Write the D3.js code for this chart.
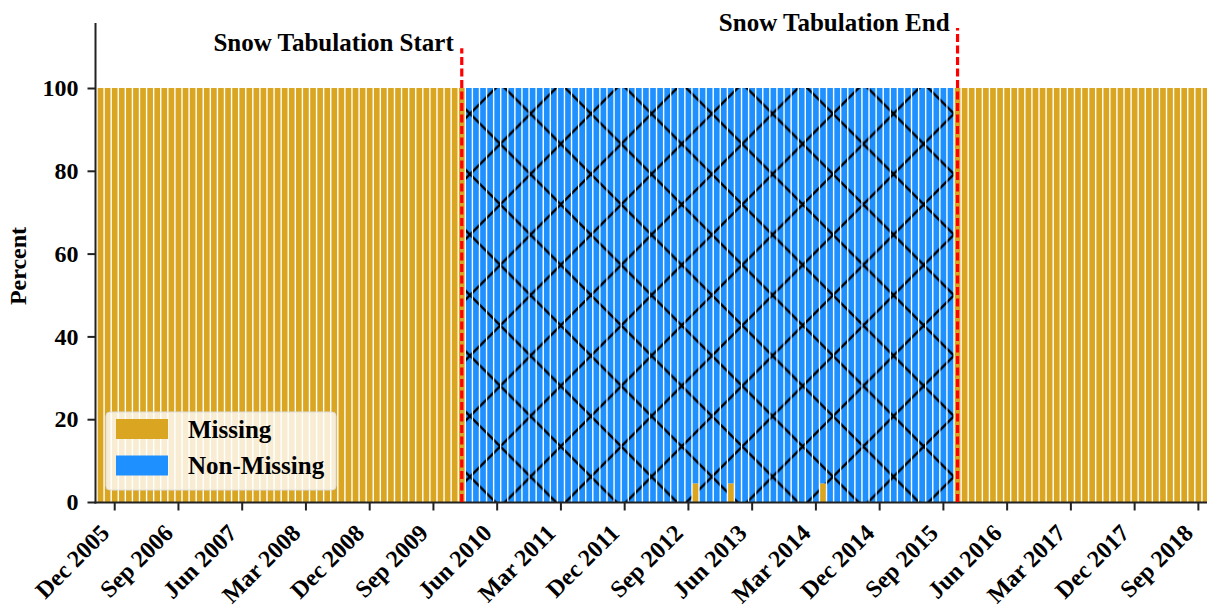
<!DOCTYPE html>
<html>
<head>
<meta charset="utf-8">
<script src="https://cdn.jsdelivr.net/npm/d3@7"></script>
<style>
  html, body { margin: 0; padding: 0; background: #fff; }
  svg text { font-family: "Liberation Serif", "Times New Roman", serif; font-weight: bold; fill: #000; }
</style>
</head>
<body>
<svg id="chart" width="1207" height="607"></svg>
<script>
// Monthly share of station records, Oct 2005 – Oct 2018 (one row per year)
const missing = [
  100, 100, 100,                                              // 2005 Oct–Dec
  100, 100, 100, 100, 100, 100, 100, 100, 100, 100, 100, 100, // 2006
  100, 100, 100, 100, 100, 100, 100, 100, 100, 100, 100, 100, // 2007
  100, 100, 100, 100, 100, 100, 100, 100, 100, 100, 100, 100, // 2008
  100, 100, 100, 100, 100, 100, 100, 100, 100, 100, 100, 100, // 2009
  100, 0, 0, 0, 0, 0, 0, 0, 0, 0, 0, 0,                       // 2010
  0, 0, 0, 0, 0, 0, 0, 0, 0, 0, 0, 0,                         // 2011
  0, 0, 0, 0, 0, 0, 0, 0, 0, 4.5, 0, 0,                       // 2012
  0, 0, 4.5, 0, 0, 0, 0, 0, 0, 0, 0, 0,                       // 2013
  0, 0, 0, 4.5, 0, 0, 0, 0, 0, 0, 0, 0,                       // 2014
  0, 0, 0, 0, 0, 0, 0, 0, 0, 0, 100, 100,                     // 2015
  100, 100, 100, 100, 100, 100, 100, 100, 100, 100, 100, 100, // 2016
  100, 100, 100, 100, 100, 100, 100, 100, 100, 100, 100, 100, // 2017
  100, 100, 100, 100, 100, 100, 100, 100, 100, 100            // 2018 Jan–Oct
];
const nonMissing = [
  0, 0, 0,                                                    // 2005 Oct–Dec
  0, 0, 0, 0, 0, 0, 0, 0, 0, 0, 0, 0,                         // 2006
  0, 0, 0, 0, 0, 0, 0, 0, 0, 0, 0, 0,                         // 2007
  0, 0, 0, 0, 0, 0, 0, 0, 0, 0, 0, 0,                         // 2008
  0, 0, 0, 0, 0, 0, 0, 0, 0, 0, 0, 0,                         // 2009
  0, 100, 100, 100, 100, 100, 100, 100, 100, 100, 100, 100,   // 2010
  100, 100, 100, 100, 100, 100, 100, 100, 100, 100, 100, 100, // 2011
  100, 100, 100, 100, 100, 100, 100, 100, 100, 95.5, 100, 100,// 2012
  100, 100, 95.5, 100, 100, 100, 100, 100, 100, 100, 100, 100,// 2013
  100, 100, 100, 95.5, 100, 100, 100, 100, 100, 100, 100, 100,// 2014
  100, 100, 100, 100, 100, 100, 100, 100, 100, 100, 0, 0,     // 2015
  0, 0, 0, 0, 0, 0, 0, 0, 0, 0, 0, 0,                         // 2016
  0, 0, 0, 0, 0, 0, 0, 0, 0, 0, 0, 0,                         // 2017
  0, 0, 0, 0, 0, 0, 0, 0, 0, 0                                // 2018 Jan–Oct
];

// Category labels: one per month
const fmt = d3.timeFormat("%b %Y");
const months = d3.timeMonth.range(new Date(2005, 9, 1), new Date(2018, 10, 1)).map(fmt);

// Labelled ticks on the date axis
const tickLabels = ["Dec 2005", "Sep 2006", "Jun 2007", "Mar 2008", "Dec 2008", "Sep 2009",
  "Jun 2010", "Mar 2011", "Dec 2011", "Sep 2012", "Jun 2013", "Mar 2014", "Dec 2014",
  "Sep 2015", "Jun 2016", "Mar 2017", "Dec 2017", "Sep 2018"];
const yTicks = [0, 20, 40, 60, 80, 100];

// Snow tabulation period markers
const markerMonths = ["Jan 2010", "Nov 2015"];
const markerTops = [109.6, 114.5];
const markerLabels = ["Snow Tabulation Start", "Snow Tabulation End"];

const seriesKeys = ["Missing", "Non-Missing"];
const seriesColors = ["#DAA520", "#1E90FF"];

const rows = months.map((m, i) => ({ month: m, "Missing": missing[i], "Non-Missing": nonMissing[i] }));
const stacked = d3.stack().keys(seriesKeys)(rows);

const svg = d3.select("#chart");

const x = d3.scaleBand().domain(months).range([97, 1209]).paddingInner(0.2).paddingOuter(0.1);
const y = d3.scaleLinear().domain([0, 115.7]).range([502, 23]);

// Cross-hatch used on the non-missing bars
const defs = svg.append("defs");
const pat = defs.append("pattern")
  .attr("id", "xhatch")
  .attr("patternUnits", "userSpaceOnUse")
  .attr("x", 46.5).attr("y", 53.2)
  .attr("width", 60.5).attr("height", 60.5);
pat.append("path")
  .attr("d", "M-2,-2L62.5,62.5M-2,62.5L62.5,-2")
  .attr("stroke", "#000").attr("stroke-width", 2.4).attr("fill", "none");

// Stacked bars
const layers = svg.append("g").selectAll("g")
  .data(stacked)
  .join("g")
  .attr("fill", (d, i) => seriesColors[i]);

layers.selectAll("rect")
  .data(d => d)
  .join("rect")
  .attr("x", d => x(d.data.month))
  .attr("width", x.bandwidth())
  .attr("y", d => y(d[1]))
  .attr("height", d => y(d[0]) - y(d[1]));

// Hatch overlay on the non-missing layer
svg.append("g").selectAll("rect")
  .data(stacked[1].filter(d => d[1] - d[0] > 0))
  .join("rect")
  .attr("x", d => x(d.data.month))
  .attr("width", x.bandwidth())
  .attr("y", d => y(d[1]))
  .attr("height", d => y(d[0]) - y(d[1]))
  .attr("fill", "url(#xhatch)");

// Y axis
const yAxis = svg.append("g")
  .attr("transform", "translate(95.5,0)")
  .call(d3.axisLeft(y).tickValues(yTicks).tickSize(8).tickPadding(9));
yAxis.select(".domain").remove();
yAxis.selectAll(".tick line").attr("stroke", "#222").attr("stroke-width", 2);
yAxis.selectAll(".tick text").style("font-size", "24px");

// X axis
const xAxis = svg.append("g")
  .attr("transform", "translate(0,502.5)")
  .call(d3.axisBottom(x).tickValues(tickLabels).tickSize(8));
xAxis.select(".domain").remove();
xAxis.selectAll(".tick line").attr("stroke", "#222").attr("stroke-width", 2);
xAxis.selectAll(".tick text")
  .style("font-size", "24px")
  .attr("x", 0).attr("y", 0).attr("dy", null)
  .attr("text-anchor", "end")
  .attr("transform", "translate(-4,32) rotate(-45)");

// Spines
svg.append("line").attr("x1", 95.5).attr("x2", 95.5).attr("y1", 23).attr("y2", 503.5)
  .attr("stroke", "#222").attr("stroke-width", 2);
svg.append("line").attr("x1", 94.5).attr("x2", 1209).attr("y1", 502.5).attr("y2", 502.5)
  .attr("stroke", "#222").attr("stroke-width", 2);

// Tabulation period markers
markerMonths.forEach((m, i) => {
  const cx = x(m) + x.bandwidth() / 2;
  svg.append("line")
    .attr("x1", cx).attr("x2", cx)
    .attr("y1", y(0)).attr("y2", y(markerTops[i]))
    .attr("stroke", "#FF0000").attr("stroke-width", 3.2)
    .attr("stroke-dasharray", "8,3.5");
  svg.append("text")
    .attr("x", cx - 8).attr("y", y(markerTops[i]) + 3)
    .attr("text-anchor", "end")
    .style("font-size", "25px")
    .text(markerLabels[i]);
});

// Y axis title
svg.append("text")
  .attr("transform", "translate(26,266) rotate(-90)")
  .attr("text-anchor", "middle")
  .style("font-size", "24px")
  .text("Percent");

// Legend
const legend = svg.append("g");
legend.append("rect")
  .attr("x", 106).attr("y", 412).attr("width", 230).attr("height", 78)
  .attr("rx", 4)
  .attr("fill", "#fff").attr("fill-opacity", 0.8)
  .attr("stroke", "#ddd").attr("stroke-width", 1);
seriesKeys.forEach((k, i) => {
  legend.append("rect")
    .attr("x", 116).attr("y", 419 + i * 36.5)
    .attr("width", 52).attr("height", 20)
    .attr("fill", seriesColors[i]);
  legend.append("text")
    .attr("x", 188).attr("y", 438 + i * 36)
    .style("font-size", "25px")
    .text(k);
});
</script>
</body>
</html>
